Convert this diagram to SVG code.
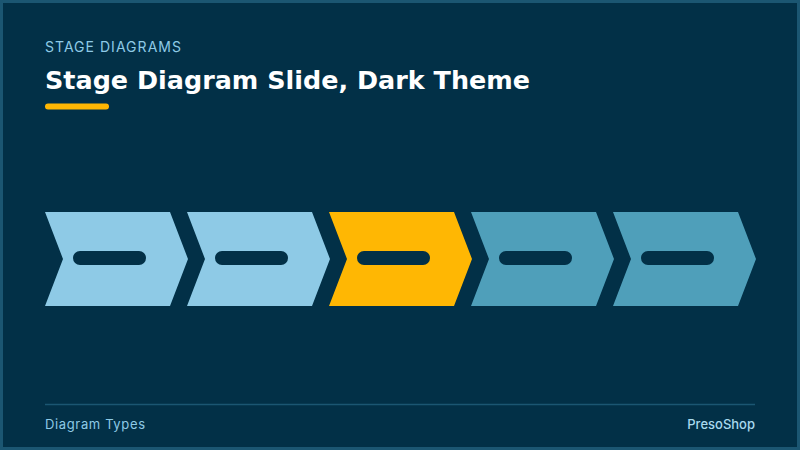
<svg xmlns="http://www.w3.org/2000/svg" width="800" height="450" viewBox="0 0 800 450">
  <defs>
    <style>
      .chev-light { fill: #8ecae6; }
      .chev-active { fill: #ffb703; }
      .chev-teal { fill: #4f9fba; }
      .bar { fill: #023047; }
      .eyebrow { font-family: "Inter", "Open Sans", sans-serif; font-size: 14px; fill: #8ecae6; }
      .title { font-family: "DejaVu Sans", "Inter", sans-serif; font-size: 25.5px; font-weight: 700; fill: #ffffff; }
      .foot { font-family: "Inter", "Open Sans", sans-serif; font-size: 13px; fill: #8ecae6; }
      .brand { font-family: "Inter", "Open Sans", sans-serif; font-size: 13px; font-weight: 500; fill: #a9d9ee; }
    </style>
    <path id="chev" d="M0,0 L125,0 L143,47 L125,94 L0,94 L18,47 Z"/>
  </defs>
  <rect x="0" y="0" width="800" height="450" fill="#023047"/>
  <rect x="1.5" y="1.5" width="797" height="447" fill="none" stroke="#1b5672" stroke-width="3"/>

  <text class="eyebrow" x="45" y="51.5" textLength="136" lengthAdjust="spacing">STAGE DIAGRAMS</text>
  <text class="title" x="45" y="89" textLength="485" lengthAdjust="spacingAndGlyphs">Stage Diagram Slide, Dark Theme</text>
  <rect x="45" y="103.5" width="64" height="6" rx="3" fill="#ffb703"/>

  <g id="stage1">
    <use href="#chev" x="45" y="212" class="chev-light"/>
    <rect class="bar" x="73" y="251" width="73" height="14" rx="7"/>
  </g>
  <g id="stage2">
    <use href="#chev" x="187" y="212" class="chev-light"/>
    <rect class="bar" x="215" y="251" width="73" height="14" rx="7"/>
  </g>
  <g id="stage3">
    <use href="#chev" x="329" y="212" class="chev-active"/>
    <rect class="bar" x="357" y="251" width="73" height="14" rx="7"/>
  </g>
  <g id="stage4">
    <use href="#chev" x="471" y="212" class="chev-teal"/>
    <rect class="bar" x="499" y="251" width="73" height="14" rx="7"/>
  </g>
  <g id="stage5">
    <use href="#chev" x="613" y="212" class="chev-teal"/>
    <rect class="bar" x="641" y="251" width="73" height="14" rx="7"/>
  </g>
  <g id="connectors"></g>

  <line x1="45" y1="404.5" x2="755" y2="404.5" stroke="#1b5672" stroke-width="1.5"/>
  <text class="foot" x="45" y="429" textLength="100" lengthAdjust="spacing">Diagram Types</text>
  <text class="brand" x="755" y="429" text-anchor="end">PresoShop</text>
</svg>
